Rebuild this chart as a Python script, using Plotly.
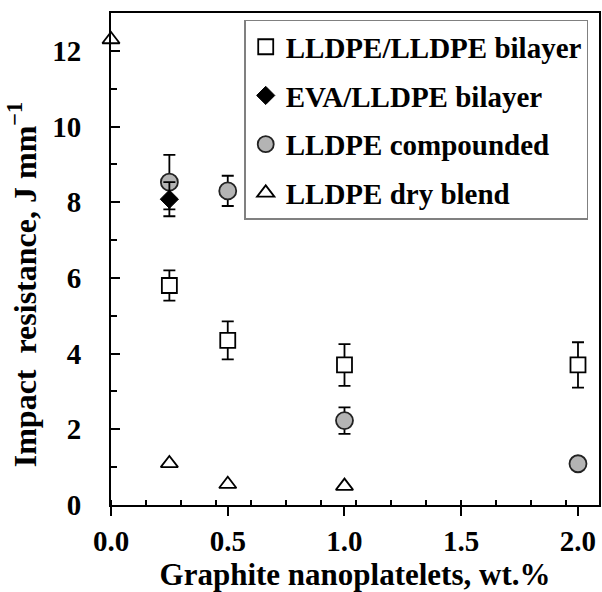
import plotly.graph_objects as go

# ---- data ----
x_bilayer = [0.25, 0.5, 1.0, 2.0]
y_bilayer = [5.8, 4.35, 3.7, 3.7]
e_bilayer = [0.4, 0.5, 0.55, 0.6]

x_eva = [0.25]
y_eva = [8.08]
e_eva = [0.45]

x_comp = [0.25, 0.5, 1.0, 2.0]
y_comp = [8.53, 8.3, 2.23, 1.09]
e_comp = [0.72, 0.4, 0.35, 0.0]

x_dry = [0.0, 0.25, 0.5, 1.0]
y_dry = [12.3, 1.1, 0.55, 0.5]

x_ticks = [0.0, 0.5, 1.0, 1.5, 2.0]
x_ticklabels = ["0.0", "0.5", "1.0", "1.5", "2.0"]
y_ticks = [0, 2, 4, 6, 8, 10, 12]
y_ticklabels = ["0", "2", "4", "6", "8", "10", "12"]

FONT = "Liberation Serif"


def b(s):
    return "<b>" + s + "</b>"


fig = go.Figure()

err_style = dict(type="data", visible=True, color="black", thickness=1.8, width=6)

fig.add_trace(go.Scatter(
    x=x_bilayer, y=y_bilayer, mode="markers", name=b("LLDPE/LLDPE bilayer"),
    legendgroup="a", legendrank=1,
    marker=dict(symbol="square", size=15, color="white", line=dict(color="black", width=1.8)),
    error_y=dict(array=e_bilayer, **err_style), cliponaxis=False))

fig.add_trace(go.Scatter(
    x=x_comp, y=y_comp, mode="markers", name=b("LLDPE compounded"),
    legendgroup="c", legendrank=3,
    marker=dict(symbol="circle", size=17, color="#b4b4b4", line=dict(color="#222222", width=1.8)),
    error_y=dict(array=e_comp, **err_style), cliponaxis=False))

fig.add_trace(go.Scatter(
    x=x_eva, y=y_eva, mode="markers", name=b("EVA/LLDPE bilayer"),
    legendgroup="b", legendrank=2,
    marker=dict(symbol="diamond", size=14, color="black", line=dict(color="black", width=1)),
    error_y=dict(array=e_eva, **err_style), cliponaxis=False))

fig.add_trace(go.Scatter(
    x=x_dry, y=y_dry, mode="markers", name=b("LLDPE dry blend"),
    legendgroup="d", legendrank=4,
    marker=dict(symbol="triangle-up", size=15, color="white", line=dict(color="black", width=1.8)),
    cliponaxis=False))

fig.update_layout(
    width=602, height=592,
    margin=dict(l=111, r=1, t=13, b=87),
    paper_bgcolor="white", plot_bgcolor="white",
    font=dict(family=FONT, size=29, color="black"),
    showlegend=True,
    legend=dict(
        x=0.273, y=0.986, xanchor="left", yanchor="top",
        bordercolor="#808080", borderwidth=1.5, bgcolor="white",
        font=dict(family=FONT, size=29, color="black"),
        traceorder="grouped", tracegroupgap=8, itemwidth=30,
    ),
)

fig.update_xaxes(
    range=[0, 2.09], showgrid=False, zeroline=False,
    showline=True, linecolor="black", linewidth=2, mirror=True,
    tickmode="array", tickvals=x_ticks, ticktext=[b(t) for t in x_ticklabels],
    ticks="outside", ticklen=9, tickwidth=2, tickcolor="black",
    tickfont=dict(family=FONT, size=29),
    minor=dict(tickmode="linear", tick0=0, dtick=0.15, ticks="inside", ticklen=5, tickwidth=2, tickcolor="black"),
    title=dict(text=b("Graphite nanoplatelets, wt.%"), font=dict(family=FONT, size=31), standoff=3),
)

fig.update_yaxes(
    range=[0, 13], showgrid=False, zeroline=False,
    showline=True, linecolor="black", linewidth=2, mirror=True,
    tickmode="array", tickvals=y_ticks, ticktext=[b(t) for t in y_ticklabels],
    ticks="inside", ticklen=9, tickwidth=2, tickcolor="black",
    tickfont=dict(family=FONT, size=29),
    minor=dict(tickmode="linear", tick0=0, dtick=1, ticks="inside", ticklen=6, tickwidth=2, tickcolor="black"),
    ticklabelstandoff=22,
)

fig.add_annotation(
    text=b("Impact  resistance, J mm<sup>\u22121</sup>"),
    xref="paper", yref="paper", x=-0.183, y=0.448,
    xanchor="center", yanchor="middle", textangle=-90, showarrow=False,
    font=dict(family=FONT, size=32, color="black"),
)

fig.write_html("out.html")
